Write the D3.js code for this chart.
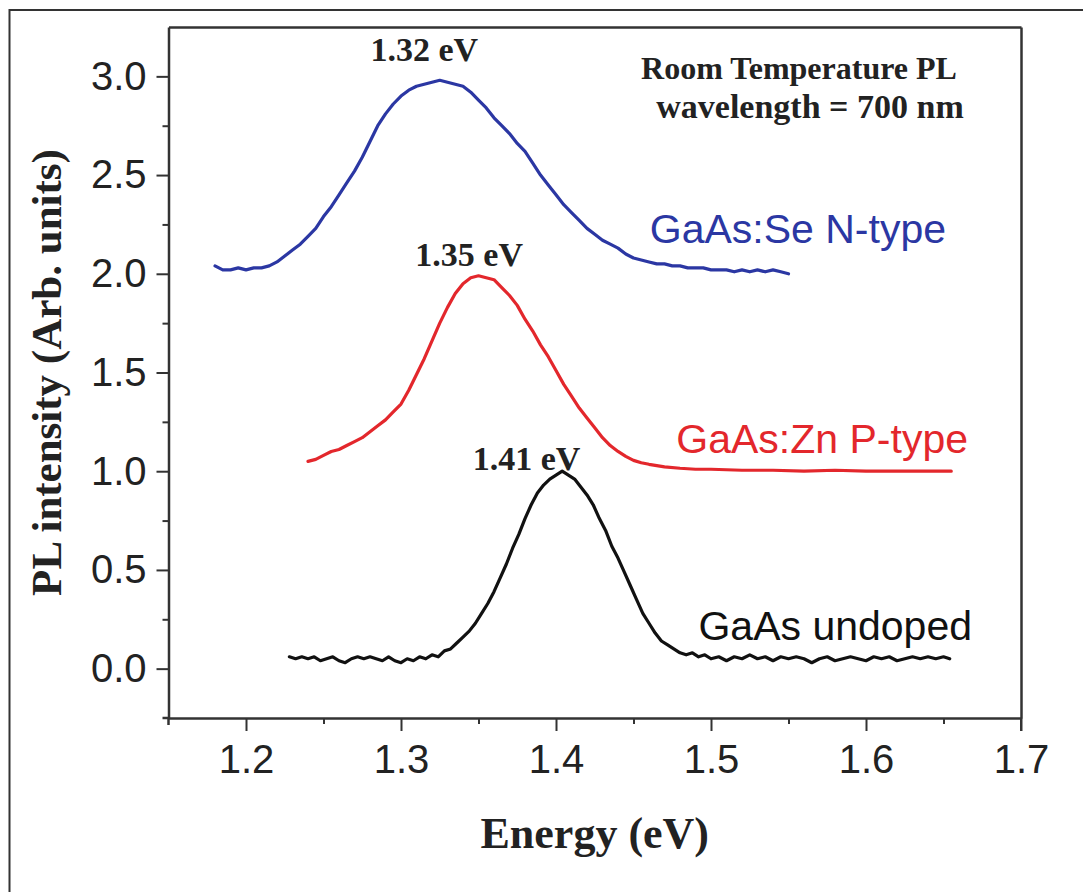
<!DOCTYPE html>
<html><head><meta charset="utf-8">
<script src="https://cdn.jsdelivr.net/npm/d3@7"></script>
<style>body{margin:0;background:#fff;} svg{display:block;}</style>
</head><body><svg id="chart" width="1083" height="892"></svg>
<script>
// ---- data ----
const xTicks = [1.2, 1.3, 1.4, 1.5, 1.6, 1.7];
const xMinorTicks = [1.25, 1.35, 1.45, 1.55, 1.65];
const yTicks = [0.0, 0.5, 1.0, 1.5, 2.0, 2.5, 3.0];
const yMinorTicks = [0.25, 0.75, 1.25, 1.75, 2.25, 2.75];

const seriesNames = ["GaAs:Se N-type", "GaAs:Zn P-type", "GaAs undoped"];
const peakLabels = ["1.32 eV", "1.35 eV", "1.41 eV"];

const blueEnergy = [1.180,1.185,1.190,1.195,1.200,1.205,1.210,1.215,1.220,1.225,1.230,1.235,1.240,1.245,1.250,1.255,1.260,1.265,1.270,1.275,1.280,1.285,1.290,1.295,1.300,1.305,1.310,1.315,1.320,1.325,1.330,1.335,1.340,1.345,1.350,1.355,1.360,1.365,1.370,1.375,1.380,1.385,1.390,1.395,1.400,1.405,1.410,1.415,1.420,1.425,1.430,1.435,1.440,1.445,1.450,1.455,1.460,1.465,1.470,1.475,1.480,1.485,1.490,1.495,1.500,1.505,1.510,1.515,1.520,1.525,1.530,1.535,1.540,1.545,1.550];
const blueIntensity = [2.04,2.02,2.02,2.03,2.02,2.03,2.03,2.04,2.06,2.09,2.12,2.15,2.19,2.23,2.29,2.34,2.40,2.46,2.52,2.59,2.67,2.75,2.81,2.86,2.90,2.93,2.95,2.96,2.97,2.98,2.97,2.96,2.95,2.92,2.88,2.84,2.79,2.75,2.71,2.66,2.62,2.56,2.50,2.45,2.40,2.35,2.31,2.27,2.23,2.20,2.17,2.15,2.13,2.10,2.08,2.07,2.06,2.05,2.05,2.04,2.04,2.03,2.03,2.03,2.02,2.02,2.02,2.01,2.02,2.01,2.02,2.01,2.02,2.01,2.00];

const redEnergy = [1.240,1.245,1.250,1.255,1.260,1.265,1.270,1.275,1.280,1.285,1.290,1.295,1.300,1.305,1.310,1.315,1.320,1.325,1.330,1.335,1.340,1.345,1.350,1.355,1.360,1.365,1.370,1.375,1.380,1.385,1.390,1.395,1.400,1.405,1.410,1.415,1.420,1.425,1.430,1.435,1.440,1.445,1.450,1.455,1.460,1.470,1.480,1.490,1.500,1.520,1.540,1.560,1.580,1.600,1.620,1.640,1.655];
const redIntensity = [1.05,1.06,1.08,1.10,1.11,1.13,1.15,1.17,1.20,1.23,1.26,1.30,1.34,1.41,1.49,1.57,1.66,1.75,1.83,1.90,1.95,1.98,1.99,1.98,1.97,1.93,1.89,1.84,1.77,1.71,1.64,1.58,1.51,1.44,1.38,1.32,1.27,1.22,1.17,1.13,1.10,1.075,1.055,1.043,1.035,1.022,1.015,1.01,1.01,1.005,1.005,1.00,1.005,1.00,1.00,1.00,1.00];

const blackEnergy = [1.228,1.232,1.236,1.240,1.244,1.248,1.252,1.256,1.260,1.264,1.268,1.272,1.276,1.280,1.284,1.288,1.292,1.296,1.300,1.304,1.308,1.312,1.316,1.320,1.324,1.328,1.332,1.336,1.340,1.344,1.348,1.352,1.356,1.360,1.364,1.368,1.372,1.376,1.380,1.384,1.388,1.392,1.396,1.400,1.404,1.408,1.412,1.416,1.420,1.424,1.428,1.432,1.436,1.440,1.444,1.448,1.452,1.456,1.460,1.464,1.468,1.472,1.476,1.480,1.484,1.488,1.492,1.496,1.500,1.505,1.510,1.515,1.520,1.525,1.530,1.535,1.540,1.545,1.550,1.555,1.560,1.565,1.570,1.575,1.580,1.585,1.590,1.595,1.600,1.605,1.610,1.615,1.620,1.625,1.630,1.635,1.640,1.645,1.650,1.654];
const blackIntensity = [0.06,0.05,0.06,0.05,0.06,0.04,0.05,0.06,0.04,0.03,0.05,0.06,0.05,0.06,0.05,0.04,0.06,0.04,0.03,0.05,0.04,0.06,0.05,0.07,0.06,0.09,0.10,0.13,0.16,0.19,0.23,0.28,0.33,0.39,0.46,0.53,0.61,0.68,0.76,0.83,0.89,0.93,0.96,0.98,1.00,0.98,0.96,0.92,0.88,0.83,0.76,0.70,0.62,0.56,0.49,0.42,0.35,0.28,0.23,0.18,0.14,0.12,0.10,0.08,0.07,0.08,0.06,0.07,0.05,0.06,0.04,0.06,0.05,0.07,0.05,0.06,0.04,0.06,0.05,0.06,0.05,0.03,0.05,0.06,0.04,0.05,0.06,0.05,0.04,0.06,0.05,0.06,0.04,0.05,0.06,0.05,0.06,0.05,0.06,0.05];

// ---- drawing ----
const svg = d3.select('#chart');
const L = 168.5, R = 1021, T = 27, B = 718;
const x = d3.scaleLinear().domain([1.15, 1.7]).range([L, R]);
const y = d3.scaleLinear().domain([-0.25, 3.25]).range([B, T]);
const axisColor = '#333';
const tickFont = '"Liberation Sans", Arial, sans-serif';
const serif = '"Liberation Serif", "Times New Roman", serif';

// outer frame (cropped at right/bottom)
svg.append('rect').attr('x', 9.5).attr('y', 10).attr('width', 1200).attr('height', 1000)
  .attr('fill', 'none').attr('stroke', axisColor).attr('stroke-width', 2);

function styleAxis(g) {
  g.select('.domain').attr('stroke', axisColor).attr('stroke-width', 2.5);
  g.selectAll('.tick line').attr('stroke', axisColor).attr('stroke-width', 2);
  g.selectAll('.tick text').attr('fill', '#222').style('font-family', tickFont).style('font-size', '40px');
}

// bottom axis
const gx = svg.append('g').attr('transform', `translate(0,${B})`)
  .call(d3.axisBottom(x).tickValues(xTicks).tickSize(13).tickSizeOuter(0).tickPadding(14).tickFormat(d3.format('.1f')));
styleAxis(gx);
gx.selectAll('.tick text').attr('dy', '0.71em');
const gxm = svg.append('g').attr('transform', `translate(0,${B})`)
  .call(d3.axisBottom(x).tickValues(xMinorTicks).tickSize(6).tickFormat(''));
gxm.select('.domain').remove();
gxm.selectAll('.tick line').attr('stroke', axisColor).attr('stroke-width', 2);

// left axis
const gy = svg.append('g').attr('transform', `translate(${L},0)`)
  .call(d3.axisLeft(y).tickValues(yTicks).tickSize(12).tickSizeOuter(0).tickPadding(10).tickFormat(d3.format('.1f')));
styleAxis(gy);
const gym = svg.append('g').attr('transform', `translate(${L},0)`)
  .call(d3.axisLeft(y).tickValues(yMinorTicks).tickSize(6).tickFormat(''));
gym.select('.domain').remove();
gym.selectAll('.tick line').attr('stroke', axisColor).attr('stroke-width', 2);

// top & right box lines
const gt = svg.append('g').attr('transform', `translate(0,${T})`)
  .call(d3.axisTop(x).tickValues([]).tickSizeOuter(0));
gt.select('.domain').attr('stroke', axisColor).attr('stroke-width', 2.5);
const gr = svg.append('g').attr('transform', `translate(${R},0)`)
  .call(d3.axisRight(y).tickValues([]).tickSizeOuter(0));
gr.select('.domain').attr('stroke', axisColor).attr('stroke-width', 2.5);
// small overhangs of the axes past the corners
svg.append('line').attr('x1', L).attr('x2', L).attr('y1', B).attr('y2', B + 7).attr('stroke', axisColor).attr('stroke-width', 2.5);
svg.append('line').attr('x1', L - 6).attr('x2', L).attr('y1', B).attr('y2', B).attr('stroke', axisColor).attr('stroke-width', 2.5);
svg.append('line').attr('x1', R).attr('x2', R).attr('y1', B).attr('y2', B + 13).attr('stroke', axisColor).attr('stroke-width', 2);

// axis titles
svg.append('text').attr('x', x(1.425)).attr('y', 848).attr('text-anchor', 'middle')
  .style('font-family', serif).style('font-weight', 'bold').style('font-size', '44px').attr('fill', '#222')
  .text('Energy (eV)');
svg.append('text').attr('transform', `translate(61,${y(1.5)}) rotate(-90)`).attr('text-anchor', 'middle')
  .style('font-family', serif).style('font-weight', 'bold').style('font-size', '43px').attr('fill', '#222')
  .text('PL intensity (Arb. units)');

// lines
const line = d3.line().x(d => x(d[0])).y(d => y(d[1]));
const series = [
  {E: blueEnergy, I: blueIntensity, color: '#2b37a3'},
  {E: redEnergy, I: redIntensity, color: '#e3272c'},
  {E: blackEnergy, I: blackIntensity, color: '#111'}
];
series.forEach(s => {
  svg.append('path').datum(s.E.map((e, i) => [e, s.I[i]]))
    .attr('d', line).attr('fill', 'none').attr('stroke', s.color)
    .attr('stroke-width', 3.2).attr('stroke-linejoin', 'round').attr('stroke-linecap', 'round');
});

// series labels
const labelPos = [[946, 2.156], [968, 1.092], [972, 0.145]];
series.forEach((s, i) => {
  svg.append('text').attr('x', labelPos[i][0]).attr('y', y(labelPos[i][1])).attr('text-anchor', 'end')
    .style('font-family', tickFont).style('font-size', '41px').attr('fill', s.color)
    .text(seriesNames[i]);
});

// peak labels
const peakPos = [[1.315, 3.08], [1.344, 2.04], [1.381, 1.006]];
peakPos.forEach((p, i) => {
  svg.append('text').attr('x', x(p[0])).attr('y', y(p[1])).attr('text-anchor', 'middle')
    .style('font-family', serif).style('font-weight', 'bold').style('font-size', '34px').attr('fill', '#222')
    .text(peakLabels[i]);
});

// condition note
svg.append('text').attr('x', 799).attr('y', 79).attr('text-anchor', 'middle')
  .style('font-family', serif).style('font-weight', 'bold').style('font-size', '32px').attr('fill', '#222')
  .text('Room Temperature PL');
svg.append('text').attr('x', 810).attr('y', 118).attr('text-anchor', 'middle')
  .style('font-family', serif).style('font-weight', 'bold').style('font-size', '34px').attr('fill', '#222')
  .text('wavelength = 700 nm');
</script></body></html>
